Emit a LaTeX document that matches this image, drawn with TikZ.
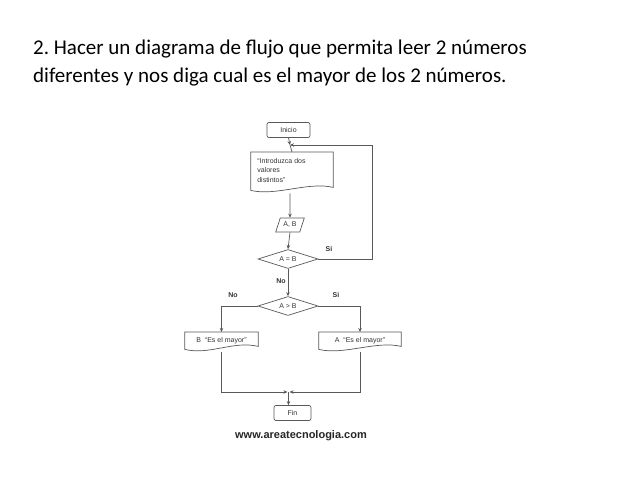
\documentclass[tikz,border=0pt]{standalone}
\usepackage{fontspec}
\setmainfont{Carlito}
\newfontfamily\diagfont{Liberation Sans}
\usetikzlibrary{shapes.geometric,arrows.meta,calc}
\frenchspacing

\tikzset{
  flow/.style={draw=black!65, line width=0.7pt},
  arr/.style={flow, -{Stealth[length=4pt,width=3.5pt]}},
  txt/.style={font=\diagfont\fontsize{7}{8}\selectfont, text=black!80},
  terminal/.style={txt, flow, rounded corners=2pt, minimum height=15pt},
  docbox/.style={txt, inner sep=0pt, minimum height=17pt},
  iobox/.style={txt, flow, trapezium, trapezium left angle=72, trapezium right angle=108,
    minimum height=14pt, minimum width=28pt, inner xsep=2pt},
  choice/.style={txt, flow, diamond, aspect=3, inner sep=0.5pt, minimum width=60pt, minimum height=19pt},
  tag/.style={font=\diagfont\bfseries\fontsize{7}{8}\selectfont, text=black!80}
}

\begin{document}
\begin{tikzpicture}[x=1pt,y=-1pt]
				\useasboundingbox [fill=white] (0,0) rectangle (638,479);

				% enunciado
				\node [anchor=west, font=\fontsize{21}{28}\selectfont, align=left, inner sep=0pt] (title) at (33,63)
				  {2. Hacer un diagrama de flujo que permita leer 2 números\\
				   diferentes y nos diga cual es el mayor de los 2 números.};

				% nodos
				\node [terminal, minimum width=43pt] (inicio) at (288.5,130) {Inicio};
				\coordinate (loopin) at (290,145);
				\node [docbox, minimum width=82pt, minimum height=38pt, anchor=north] (pedir) at (292,152) {};
				\node [txt, anchor=north west, align=left, font=\diagfont\fontsize{7}{9.3}\selectfont]
				  at (pedir.north west) [xshift=3pt, yshift=-3pt]
				  {“Introduzca dos\\valores\\distintos”};
				\node [iobox] (leer) at (290,225) {A, B};
				\node [choice] (igual) at (288,259) {A = B};
				\node [choice] (mayor) at (288,306) {A > B};
				\node [docbox, minimum width=73pt, anchor=north] (salb) at (221.5,332) {B \ “Es el mayor”};
				\node [docbox, minimum width=82pt, anchor=north] (sala) at (360,332) {A \ “Es el mayor”};
				\coordinate (junta) at (288.5,392);
				\node [terminal, minimum width=37pt] (fin) at (292.5,413) {Fin};

				% bordes ondulados
				\foreach \d in {pedir, salb, sala}
				{
					\draw [flow] (\d.south west) .. controls +(25,6) and +(-25,-6) .. ($(\d.south east)+(0,-3)$)
					  -- (\d.north east) -- (\d.north west) -- cycle;
				}

				% conectores
				\draw [arr] (inicio.south) -- (loopin);
				\draw [flow] (loopin) -- (pedir.north);
				\draw [arr] ($(pedir.south)+(-2,3)$) -- (leer.north);
				\draw [arr] (leer.south) -- (igual.north);
				\draw [arr] (igual.east) -- ++(54,0) |- (loopin);
				\draw [arr] (igual.south) -- (mayor.north);
				\draw [arr] (mayor.west) -| (salb.north);
				\draw [arr] (mayor.east) -| (sala.north);
				\draw [arr] ($(salb.south)+(0,3)$) |- ([xshift=-1pt]junta);
				\draw [arr] ($(sala.south)+(0,3)$) |- ([xshift=1pt]junta);
				\draw [arr] (junta) -- (junta |- fin.north);

				% etiquetas
				\node [tag] at (329,249) {Si};
				\node [tag] at (281,281) {No};
				\node [tag] at (233,295) {No};
				\node [tag] at (336,295) {Si};

				\node [font=\diagfont\bfseries\fontsize{11}{12}\selectfont, text=black!85] (web) at (301,436) {www.areatecnologia.com};
\end{tikzpicture}
\end{document}
